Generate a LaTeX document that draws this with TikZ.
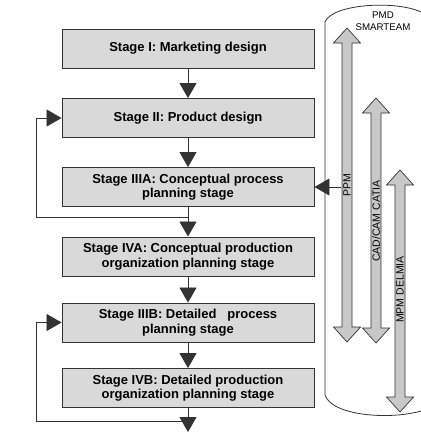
\documentclass[tikz,border=0pt]{standalone}
\usepackage{fontspec}
\setmainfont{Liberation Sans}
\usetikzlibrary{arrows.meta}
\definecolor{boxgray}{HTML}{D9D9D9}
\definecolor{linegray}{HTML}{333333}
\definecolor{toolgray}{HTML}{C8C8C8}
\tikzstyle{stage} = [rectangle, minimum width=252pt, minimum height=39pt, align=center, draw=linegray, line width=0.9pt, fill=boxgray, font=\fontsize{13}{14.5}\selectfont\bfseries]
\tikzstyle{tool} = [draw=linegray, line width=0.7pt, fill=toolgray, line join=miter]
\tikzstyle{toollabel} = [rotate=90, inner sep=0pt, font=\fontsize{10.5}{10.5}\selectfont]
\tikzstyle{connector} = [line width=0.8pt, draw=linegray, -{Triangle[width=17pt,length=15pt]}, linegray]

\begin{document}
\begin{tikzpicture}[x=1pt, y=-1pt]
  \useasboundingbox (0,0) rectangle (421,432);

  % Stages
  \node (box1) at (188,48.5) [stage] {Stage I: Marketing design};
  \node (box2) at (188,118) [stage] {Stage II: Product design};
  \node (box3) at (188,187) [stage] {Stage IIIA: Conceptual process\\planning stage};
  \node (box4) at (188,256.5) [stage] {Stage IVA: Conceptual production\\organization planning stage};
  \node (box5) at (188,322.5) [stage] {Stage IIIB: Detailed \ \ process\\planning stage};
  \node (box6) at (188,388) [stage] {Stage IVB: Detailed production\\ organization planning stage};

  % Database cylinder
  \draw[linegray, line width=0.8pt] (421,411) .. controls (390,420) and (332,416) .. (325,395)
    -- (325,22) .. controls (332,4) and (395,0) .. (421,12);
  \node (pmd) at (383,21) [align=center, font=\fontsize{9.7}{12.5}\selectfont] {PMD\\SMARTEAM};

  % Tools (double block arrows)
  \draw[tool] (347,28) -- ++(13.5,15) -- ++(-8.5,0) -- ++(0,284) -- ++(8.5,0) -- ++(-13.5,15)
    -- ++(-13.5,-15) -- ++(8.5,0) -- ++(0,-284) -- ++(-8.5,0) -- cycle;
  \draw[tool] (376,98) -- ++(13.5,15) -- ++(-8.5,0) -- ++(0,215) -- ++(8.5,0) -- ++(-13.5,15)
    -- ++(-13.5,-15) -- ++(8.5,0) -- ++(0,-215) -- ++(-8.5,0) -- cycle;
  \draw[tool] (400,170) -- ++(13.5,15) -- ++(-8.5,0) -- ++(0,212) -- ++(8.5,0) -- ++(-13.5,15)
    -- ++(-13.5,-15) -- ++(8.5,0) -- ++(0,-212) -- ++(-8.5,0) -- cycle;
  \node (ppm) at (347,185) [toollabel] {PPM};
  \node (catia) at (376,221) [toollabel] {CAD/CAM CATIA};
  \node (delmia) at (400,289.5) [toollabel] {MPM DELMIA};

  % Links
  \coordinate (split1) at (188,217);
  \coordinate (loop1) at (36,217);
  \coordinate (split2) at (188,421);
  \coordinate (loop2) at (36,421);
  \coordinate (exit) at (188,432);
  \coordinate (ppmlink) at (341,187);

  % Arrows down the stages
  \draw[connector] (box1) -- (box2);
  \draw[connector] (box2) -- (box3);
  \draw[connector] (box3) -- (box4);
  \draw[connector] (box4) -- (box5);
  \draw[connector] (box5) -- (box6);
  \draw[connector] (box6) -- (exit);

  % Feedback loops
  \draw[connector] (split1) -- (loop1) |- (box2.west);
  \draw[connector] (split2) -- (loop2) |- (box5.west);

  % From PPM
  \draw[connector] (ppmlink) -- (box3.east);

\end{tikzpicture}
\end{document}
